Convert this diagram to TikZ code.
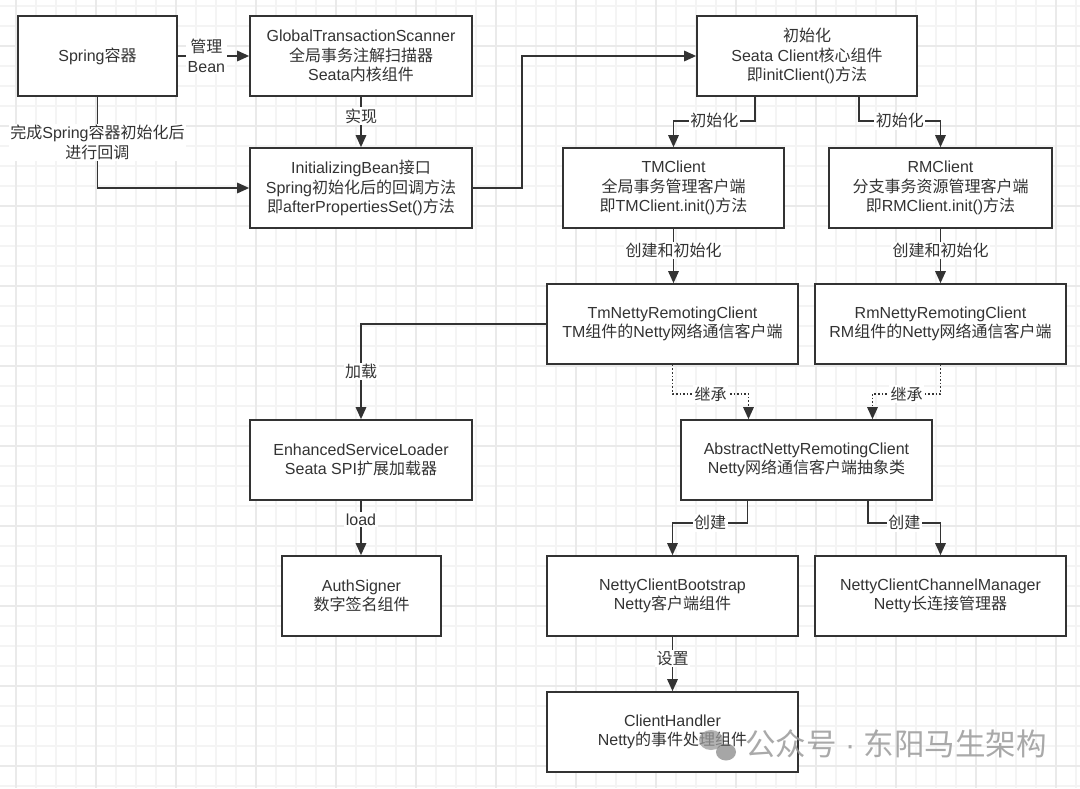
\documentclass[tikz,border=0pt]{standalone}
\usepackage{fontspec}
\setmainfont{Liberation Sans}
\newfontfamily\cjkf{Noto Sans CJK SC}
\newfontfamily\latf{Liberation Sans}
\usetikzlibrary{arrows.meta,calc}
% automatic switch between Latin and CJK fonts
\XeTeXinterchartokenstate=1
\newXeTeXintercharclass\cjkcls
\newcount\mycnt
\mycnt="4E00
\loop\XeTeXcharclass\mycnt=\cjkcls \advance\mycnt by 1 \ifnum\mycnt<"A000 \repeat
\XeTeXinterchartoks 0 \cjkcls = {\cjkf}
\XeTeXinterchartoks 4095 \cjkcls = {\cjkf}
\XeTeXinterchartoks \cjkcls 0 = {\latf}
\XeTeXinterchartoks \cjkcls 4095 = {\latf}
\definecolor{ink}{HTML}{333333}
\definecolor{gridmin}{HTML}{F4F4F4}
\definecolor{gridmaj}{HTML}{EAEAEA}
\definecolor{wm}{HTML}{9A9A9A}
\tikzset{
  box/.style={draw=ink, line width=1.7pt, fill=white, text=ink, align=center,
    minimum height=80pt, inner sep=2pt, font=\fontsize{16}{19.5}\selectfont},
  arr/.style={draw=ink, line width=1.6pt, -{Triangle[length=12pt,width=10.5pt]}},
  dotarr/.style={arr, dotted},
  lbl/.style={fill=white, text=ink, inner sep=1.5pt, align=center,
    font=\fontsize{16}{19.5}\selectfont},
  gmin/.style={draw=gridmin, line width=1.2pt},
  gmaj/.style={draw=gridmaj, line width=1.4pt},
}
\begin{document}
\begin{tikzpicture}[x=1pt,y=-1pt]
\useasboundingbox (0,0) rectangle (1080,788);
\fill[white] (0,0) rectangle (1080,788);
% grid
\foreach \i in {0,...,53} \draw[gmin] ({16+20*\i},0) -- ++(0,788);
\foreach \i in {0,...,39} \draw[gmin] (0,{6+20*\i}) -- ++(1080,0);
\foreach \i in {0,...,13} \draw[gmaj] ({16+80*\i},0) -- ++(0,788);
\foreach \i in {0,...,9} \draw[gmaj] (0,{46+80*\i}) -- ++(1080,0);

% boxes
\node[box, minimum width=159pt] (spring) at (97.5,56) {Spring容器};
\node[box, minimum width=222pt] (gts) at (361,56) {GlobalTransactionScanner\\全局事务注解扫描器\\Seata内核组件};
\node[box, minimum width=222pt] (ib) at (361,188) {InitializingBean接口\\Spring初始化后的回调方法\\即afterPropertiesSet()方法};
\node[box, minimum width=220pt] (init) at (807,56) {初始化\\Seata Client核心组件\\即initClient()方法};
\node[box, minimum width=221pt] (tm) at (673.5,188) {TMClient\\全局事务管理客户端\\即TMClient.init()方法};
\node[box, minimum width=223pt] (rm) at (940.5,188) {RMClient\\分支事务资源管理客户端\\即RMClient.init()方法};
\node[box, minimum width=251pt] (tmn) at (672.5,324) {TmNettyRemotingClient\\TM组件的Netty网络通信客户端};
\node[box, minimum width=251pt] (rmn) at (940.5,324) {RmNettyRemotingClient\\RM组件的Netty网络通信客户端};
\node[box, minimum width=222pt] (esl) at (361,460) {EnhancedServiceLoader\\Seata SPI扩展加载器};
\node[box, minimum width=251pt] (anr) at (806.5,460) {AbstractNettyRemotingClient\\Netty网络通信客户端抽象类};
\node[box, minimum width=159pt] (auth) at (361.5,596) {AuthSigner\\数字签名组件};
\node[box, minimum width=251pt] (ncb) at (672.5,596) {NettyClientBootstrap\\Netty客户端组件};
\node[box, minimum width=251pt] (nccm) at (940.5,596) {NettyClientChannelManager\\Netty长连接管理器};
\node[box, minimum width=251pt] (ch) at (672.5,732) {ClientHandler\\Netty的事件处理组件};

% connectors
\draw[arr] (spring) -- node[lbl,pos=0.4]{管理\\Bean} (gts);
\draw[arr] (spring.south) |- node[lbl,pos=0.25]{完成Spring容器初始化后\\进行回调} (ib.west);
\draw[arr] (gts) -- node[lbl,pos=0.38]{实现} (ib);
\draw[arr] (ib.east) -- ++(49,0) |- (init.west);
\draw[arr] ([xshift=-52pt]init.south) -- ++(0,24) -| node[lbl,pos=0.25]{初始化} (tm.north);
\draw[arr] ([xshift=52pt]init.south) -- ++(0,24) -| node[lbl,pos=0.25]{初始化} (rm.north);
\draw[arr] (tm.south) -- node[lbl,pos=0.4]{创建和初始化} (tm.south |- tmn.north);
\draw[arr] (rm.south) -- node[lbl,pos=0.4]{创建和初始化} (rm.south |- rmn.north);
\draw[arr] (tmn.west) -| node[lbl,pos=0.75]{加载} (esl.north);
\draw[dotarr] (tmn.south) -- ++(0,29) -| node[lbl,pos=0.25]{继承} ([xshift=-58pt]anr.north);
\draw[dotarr] (rmn.south) -- ++(0,29) -| node[lbl,pos=0.25]{继承} ([xshift=66pt]anr.north);
\draw[arr] ([xshift=-59pt]anr.south) -- ++(0,22) -| node[lbl,pos=0.25]{创建} (ncb.north);
\draw[arr] ([xshift=61.5pt]anr.south) -- ++(0,22) -| node[lbl,pos=0.25]{创建} (nccm.north);
\draw[arr] (esl.south) -- node[lbl,pos=0.35]{load} (esl.south |- auth.north);
\draw[arr] (ncb) -- node[lbl,pos=0.4]{设置} (ch);

% watermark
\fill[wm, opacity=0.75] (711,740) ellipse (12 and 10);
\fill[wm!70!black, opacity=0.6] (726,752) ellipse (10 and 8.5);
\node[text=wm, text opacity=0.85, anchor=west, inner sep=0pt,
  font=\fontsize{30.5}{32}\selectfont] (wmk) at (745,744) {公众号 · 东阳马生架构};
\end{tikzpicture}
\end{document}
